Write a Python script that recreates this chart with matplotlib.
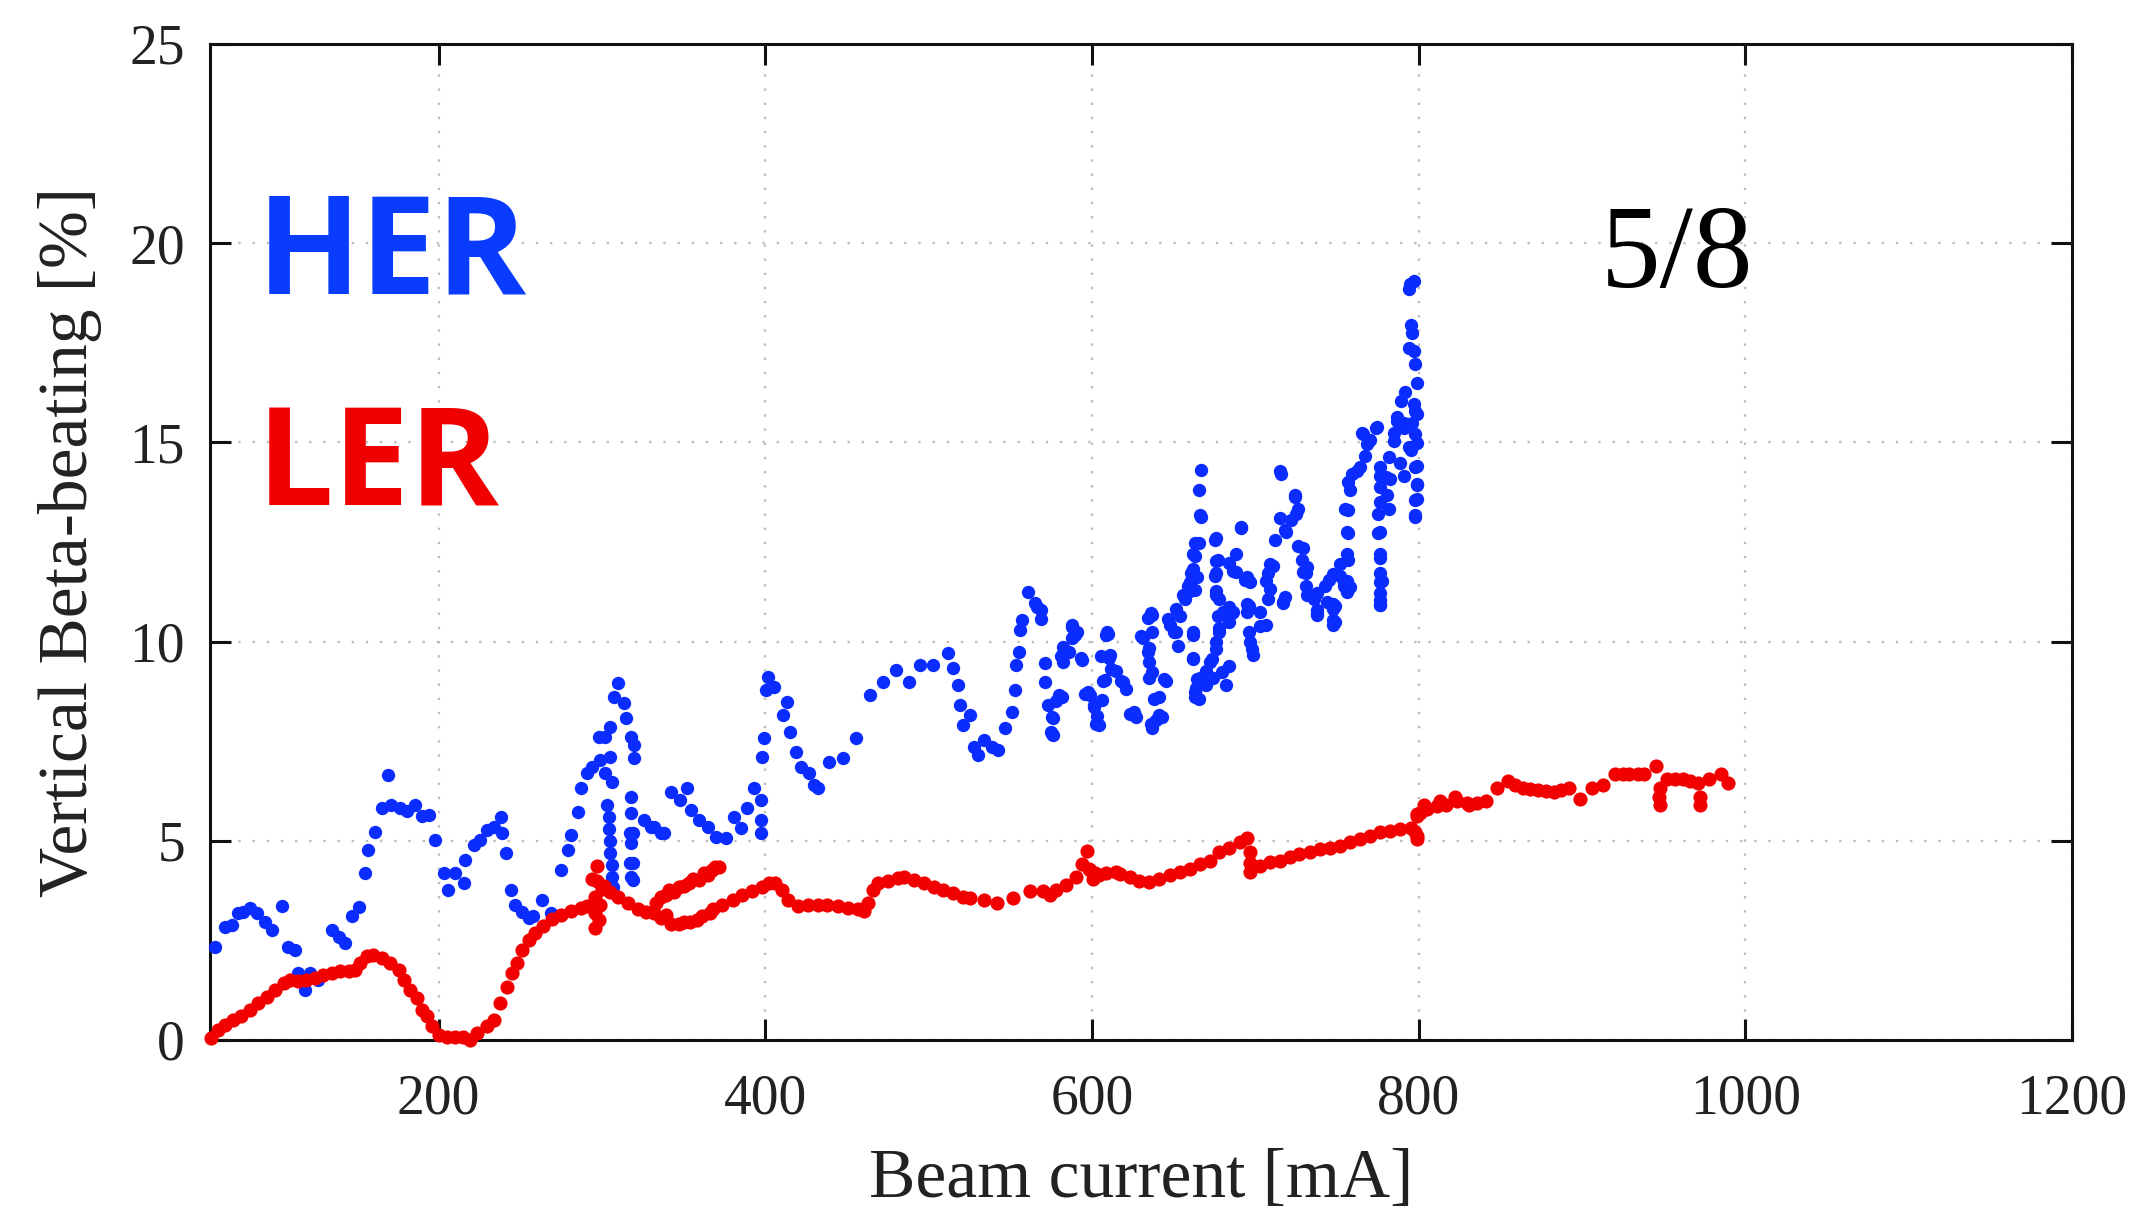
import matplotlib
matplotlib.use("Agg")
import matplotlib.pyplot as plt

# HER: vertical beta-beating [%] vs beam current [mA]
her_current = [
    63.1, 69.2, 73.3, 77.4, 80.4, 84.5, 88.6, 93.7, 97.8, 104, 108, 112, 114, 118, 121, 126,
    134.7, 138.7, 142.8, 147, 151, 155, 157, 161, 165, 169, 171, 176.6, 180.7, 185.8, 189.9, 194,
    198, 203, 206, 210, 215.4, 216.4, 221.5, 225.6, 229.8, 233.8, 238, 239, 241, 244, 247, 251,
    255, 258, 263, 268.6, 274.7, 279, 281, 285, 287, 291, 294, 299, 302, 305, 309.5, 307.4,
    313.5, 314.6, 317.7, 319.7, 319.7, 298, 305, 306, 302,
    303, 304, 304, 305, 305, 306, 306, 307,
    318, 318, 317, 318, 317, 318, 319, 319, 319,
    326, 330, 332, 336, 338, 342, 348, 352, 354.5, 359.6, 364.7, 369.8, 376, 381, 385, 389,
    393, 397.4, 397.4, 397.4, 398, 399, 401.5, 400.5, 405.6, 413, 410.7, 414.8, 419, 422, 427,
    430, 432, 439, 447.5, 455.7, 463.9, 472, 480, 488, 494.6, 502.8, 512, 515, 518, 519, 525,
    521, 528, 530, 534, 538.5, 542.6, 546.7, 550.8, 552.8, 555, 557, 560.6, 565, 566.6, 569,
    568.8, 556, 553.7, 571, 571, 573, 576, 576, 581.5, 582.5, 587.6, 589.6, 593.7, 598.8, 603,
    604, 606, 610, 611, 608,
    575, 575.8, 575.8, 578, 580, 580, 581, 582, 586, 588, 588, 590.6, 593, 596, 597.7, 601,
    601.4, 602.5, 605.8, 606.5, 608.6, 609.4, 610.6, 611.7, 614.7, 617.8, 618.7, 621, 623,
    625.7, 627, 630, 631, 634, 634, 635, 635, 635, 636, 637, 637, 637, 638, 637, 636.2, 639,
    641, 641, 643, 644, 645.6, 646.8, 647.5, 650, 651.6, 651.6, 652.6, 653.8, 655.7, 657,
    658.5, 659.8, 660.8, 661.8, 661.8, 661.8, 663, 663, 663, 663.9, 662.8, 664, 663, 665.5,
    665.9, 666.7, 665.5, 666.7, 665.5, 662, 662, 666, 661.8, 664, 659.8, 670, 670, 670, 672,
    673.7, 674, 676, 676, 678, 677, 678, 676, 675, 677, 676, 676, 676, 676, 675, 678, 680,
    684, 684, 684, 686, 686.4, 684, 682, 679.5, 686.4, 688.4, 688.4, 691.4, 691.5, 693.6,
    694.6, 694.6, 694.6, 696, 696, 696.6, 696.6, 698, 698.7, 702.8, 703, 706.8, 706.8, 707.6,
    707.6, 708.9, 709, 711, 712, 715, 715.8, 715, 717, 717, 718, 718, 719, 721.6, 724, 724,
    725, 726, 726.3, 728.6, 729.4, 729.4, 731, 731, 731.4, 731.4, 735.7, 737.6, 737.6, 738,
    738, 742.7, 743.7, 745, 747.8, 747.8, 747.8, 747.8, 747.8, 748.5, 748.5, 752, 752, 754,
    754, 756, 756, 756, 756, 756.7, 756.7, 756.7, 755, 757, 758, 758, 759, 762, 764, 765, 766,
    767, 768.4, 770, 774, 774.4, 775, 775, 776.4, 776.4, 776.4, 776.4, 776.4, 776.4, 776.4,
    776.4, 776.4, 776.4, 776.4, 776.4, 777.5, 776.4, 780, 780.5, 781.6, 782, 782.6, 784.6,
    784.6, 786.7, 787, 788.7, 789, 790.8, 790.8, 791, 791.8, 793.9, 793.9, 794, 794.9, 795,
    795, 796, 796, 797, 797, 797, 797.6, 797.6, 797.6, 797.6, 797.6, 798, 798, 798.8, 799,
    799, 799, 799, 799, 799,
]
her_beta = [
    2.34, 2.84, 2.89, 3.18, 3.22, 3.31, 3.18, 2.97, 2.76, 3.36, 2.34, 2.26, 1.67, 1.25, 1.67, 1.5,
    2.76, 2.59, 2.43, 3.1, 3.35, 4.18, 4.77, 5.23, 5.82, 6.65, 5.9, 5.82, 5.74, 5.9, 5.61, 5.65,
    5.02, 4.18, 3.77, 4.18, 3.93, 4.52, 4.89, 5.02, 5.27, 5.35, 5.6, 5.19, 4.69, 3.77, 3.39, 3.22,
    3.05, 3.1, 3.51, 3.18, 4.27, 4.77, 5.15, 5.73, 6.32, 6.69, 6.86, 7.03, 7.61, 7.86, 8.95, 8.62,
    8.45, 8.07, 7.61, 7.4, 7.07, 7.61, 7.11, 6.48, 6.69,
    5.9, 5.6, 5.3, 5.0, 4.7, 4.4, 4.1, 3.85,
    6.1, 5.7, 5.2, 4.95, 4.45, 4.1, 5.19, 4.44, 4.02,
    5.52, 5.35, 5.35, 5.19, 5.19, 6.23, 6.02, 6.32, 5.77, 5.52, 5.35, 5.1, 5.06, 5.6, 5.31, 5.82,
    6.32, 6.02, 5.52, 5.19, 7.11, 7.57, 9.12, 8.79, 8.87, 8.49, 8.16, 7.74, 7.24, 6.86, 6.69,
    6.4, 6.32, 6.99, 7.07, 7.57, 8.66, 8.99, 9.29, 8.99, 9.41, 9.41, 9.71, 9.33, 8.91, 8.41, 8.16,
    7.91, 7.36, 7.15, 7.53, 7.36, 7.28, 7.82, 8.24, 8.79, 9.75, 10.54, 11.24, 10.96, 10.86, 10.79,
    10.57, 10.28, 9.42, 9.46, 8.99, 8.41, 8.07, 7.66, 8.62, 9.87, 10.37, 10.17, 9.54, 8.66, 8.12,
    7.91, 8.53, 10.2, 9.66, 9.04,
    7.74, 7.69, 8.1, 8.51, 8.6, 8.65, 9.65, 9.5, 9.75, 10.41, 10.08, 10.23, 9.59, 8.68, 8.73, 8.4,
    8.35, 7.93, 9.65, 9.0, 10.17, 10.23, 9.59, 9.31, 9.26, 9.0, 8.98, 8.82, 8.18,
    8.24, 8.1, 10.15, 10.08, 10.58, 9.73, 9.83, 9.5, 9.09, 10.73, 10.66, 10.23, 9.23, 8.57, 7.82, 7.93, 8.02,
    8.15, 8.6, 8.1, 9.07, 9.0, 10.56, 10.41, 10.23, 10.83, 10.25, 9.9, 10.64, 11.16, 11.06,
    11.4, 11.49, 11.72, 11.82, 10.17, 9.59, 12.14, 12.47, 11.3, 8.84, 8.6, 9.07, 8.73, 8.57,
    9.09, 14.3, 13.8, 13.13, 12.47, 10.23, 9.57, 13.17, 12.19, 11.61, 11.28, 8.9, 9.23, 9.26, 9.5,
    9.57, 9.09, 9.81, 10.0, 10.23, 10.64, 11.06, 11.72, 12.55, 12.05, 12.6, 12.02, 11.28, 11.16, 11.65, 10.33, 10.74,
    11.97, 10.5, 10.87, 10.73, 10.74, 9.4, 8.9, 9.23, 11.78, 11.74, 12.19, 12.88, 12.85, 11.55,
    11.61, 10.74, 10.95, 10.9, 10.23, 11.49, 10.0, 9.81, 9.67, 10.74, 10.4, 10.41, 11.53, 11.06,
    11.72, 11.94, 11.32, 11.89, 12.55, 14.28, 14.2, 13.09, 10.99, 10.97, 12.8, 11.12, 12.76, 13.05, 13.63, 13.67,
    13.2, 12.39, 13.34, 12.05, 12.35, 11.74, 11.72, 11.39, 11.86, 11.16, 11.06, 10.66, 10.79, 10.73,
    11.23, 11.39, 10.99, 11.55, 11.7, 10.95, 10.54, 10.83, 10.41, 10.9, 10.48, 11.64, 11.94, 11.39,
    11.49, 11.24, 12.76, 12.19, 11.53, 12.05, 12.72, 13.3, 13.34, 14.0, 13.8, 11.37, 14.2, 14.28, 14.38, 15.23, 15.2,
    14.65, 14.96, 15.07, 15.37, 15.39, 13.2, 12.72, 14.38, 13.88, 14.16, 13.5, 12.76, 12.2, 12.1,
    11.72, 11.22, 10.93, 10.91, 11.49, 11.53, 11.04, 14.13, 13.67, 13.34, 14.63, 14.08, 15.04,
    15.23, 15.64, 15.54, 14.49, 16.04, 15.48, 14.16, 15.37, 16.26, 18.85, 17.37, 14.88, 18.97, 17.94,
    14.82, 17.74, 15.48, 19.05, 17.29, 15.97, 15.8, 15.2, 14.38, 13.55, 13.13, 16.96, 13.17, 13.96, 16.5,
    15.72, 14.98, 14.41, 13.92, 13.59,
]

# LER: vertical beta-beating [%] vs beam current [mA]
ler_current = [
    60.5, 65, 69, 74, 79, 84.5, 89.6, 94.7, 100, 105, 109, 114, 119, 124, 129, 134.6, 139.7,
    145, 149, 152, 156, 160, 165, 170, 175.5, 178.5, 182.6, 186.7, 189.8, 192.8, 196, 200, 205,
    210, 215, 219, 223.5, 229.6, 233.7, 237.8, 242, 245, 248, 251, 255, 259, 264, 269.5, 274.6,
    280.8, 287, 291, 294, 296, 296, 296, 297, 297, 298, 299, 300, 301, 305, 310, 316, 322, 327,
    332, 333, 336, 339, 341, 344, 347, 350, 353, 356, 359.5, 362.6, 365, 367.6, 369, 371.7,
    336, 339, 342, 347, 350, 354, 358, 361.5, 366, 368, 373.7, 380, 386, 392, 398, 402, 406,
    410, 414, 420, 426, 432, 438, 444.5, 450.6, 456.7, 460.7, 462.7, 465.8, 468.8, 475, 481,
    485, 491, 497, 503, 509, 515, 521, 525.5, 533.6, 541.7, 551.8, 562, 570, 574, 578, 584,
    590, 594, 597, 598, 599, 600.4, 602, 604.5, 608.5, 614.5, 617, 623, 629, 635, 641, 647.5,
    653.6, 659.8, 666, 672, 678, 684, 690.5, 694.6, 696.6, 696.6, 697, 702.8, 709, 715, 721,
    727, 733.5, 739.6, 745.7, 752, 758, 764, 770, 776.4, 782.6, 788.7, 795, 798, 799, 799, 799,
    799, 801, 803.5, 805, 811, 813, 817, 822, 823.5, 829.7, 831, 836, 841, 847.7, 854.6, 859,
    864, 868, 873, 878, 882.6, 887, 892, 899, 906, 913, 920, 925, 929, 934, 938, 945, 947.7,
    947.7, 947, 952, 957, 961.6, 966, 971, 972, 972, 978, 985, 989.5,
]
ler_beta = [
    0.05, 0.25, 0.38, 0.5, 0.59, 0.76, 0.92, 1.09, 1.26, 1.43, 1.51, 1.47, 1.51, 1.55, 1.64, 1.68, 1.72,
    1.72, 1.76, 1.93, 2.1, 2.14, 2.06, 1.93, 1.76, 1.51, 1.26, 1.05, 0.76, 0.59, 0.34, 0.13, 0.08,
    0.08, 0.08, 0.0, 0.17, 0.34, 0.5, 0.92, 1.34, 1.68, 1.93, 2.27, 2.52, 2.69, 2.86, 3.03, 3.15,
    3.24, 3.32, 3.36, 4.03, 2.8, 3.2, 3.6, 4.0, 4.37, 3.0, 3.4, 3.8, 3.87, 3.72, 3.6, 3.45, 3.3, 3.22,
    3.2, 3.44, 3.6, 3.65, 3.77, 3.72, 3.85, 3.87, 3.93, 4.03, 4.02, 4.2, 4.15, 4.26, 4.33, 4.34,
    3.05, 3.15, 2.9, 2.9, 2.95, 2.96, 3.0, 3.1, 3.2, 3.28, 3.4, 3.52, 3.65, 3.73, 3.85, 3.93, 3.93,
    3.77, 3.52, 3.36, 3.4, 3.4, 3.4, 3.36, 3.32, 3.28, 3.24, 3.44, 3.77, 3.93, 3.98, 4.06,
    4.1, 4.02, 3.93, 3.85, 3.77, 3.69, 3.6, 3.56, 3.52, 3.44, 3.56, 3.73, 3.73, 3.64, 3.77, 3.89,
    4.1, 4.43, 4.75, 4.3, 4.26, 4.05, 4.18, 4.13, 4.18, 4.22, 4.17, 4.09, 4.0, 3.97, 4.05, 4.13,
    4.21, 4.3, 4.42, 4.5, 4.71, 4.83, 4.96, 5.08, 4.71, 4.21, 4.45, 4.38, 4.46, 4.5, 4.59,
    4.67, 4.71, 4.79, 4.83, 4.88, 4.96, 5.04, 5.12, 5.21, 5.25, 5.29, 5.33, 5.21, 5.04, 5.11, 5.62,
    5.67, 5.7, 5.89, 5.79, 5.87, 6.0, 5.91, 6.11, 6.0, 5.95, 5.89, 5.95, 6.0, 6.33, 6.5, 6.4,
    6.33, 6.3, 6.28, 6.25, 6.22, 6.28, 6.33, 6.06, 6.33, 6.39, 6.67, 6.67, 6.67, 6.67, 6.67, 6.89, 6.33,
    5.89, 6.1, 6.56, 6.56, 6.56, 6.5, 6.44, 5.89, 6.1, 6.56, 6.67, 6.44,
]

x_ticks = [200, 400, 600, 800, 1000, 1200]
y_ticks = [0, 5, 10, 15, 20, 25]

W, H = 2142, 1211
fig = plt.figure(figsize=(W / 100, H / 100), dpi=100)
ax = fig.add_axes([210 / W, 1 - 1040 / H, 1862 / W, 996 / H])

serif = "Liberation Serif"
blue = "#0a2cff"
red = "#f20000"

ax.plot(her_current, her_beta, linestyle="none", marker="o", markersize=9.6,
        markeredgewidth=0, color=blue, zorder=3, clip_on=False)
ax.plot(ler_current, ler_beta, linestyle="none", marker="o", markersize=10.2,
        markeredgewidth=0, color=red, zorder=4, clip_on=False)

ax.set_xlim(60, 1200)
ax.set_ylim(0, 25)
ax.set_xticks(x_ticks)
ax.set_yticks(y_ticks)
ax.set_xticklabels([str(v) for v in x_ticks], fontfamily=serif, fontsize=40, color="#222222")
ax.set_yticklabels([str(v) for v in y_ticks], fontfamily=serif, fontsize=40, color="#222222")
ax.tick_params(direction="in", length=15, width=2.2, top=True, right=True,
               color="#111111")
ax.tick_params(axis="x", pad=24)
ax.tick_params(axis="y", pad=18)

ax.grid(True, color="#bdbdbd", linestyle=(0, (1, 5)), linewidth=1.7, zorder=0)
for s in ax.spines.values():
    s.set_linewidth(2.2)
    s.set_color("#111111")

ax.set_xlabel("Beam current [mA]", fontfamily=serif, fontsize=50, color="#222222", labelpad=17)
ax.set_ylabel("Vertical Beta-beating [%]", fontfamily=serif, fontsize=50, color="#222222", labelpad=20)

ax.text(0.025, 0.749, "HER", transform=ax.transAxes, fontfamily="Open Sans",
        fontweight="bold", fontsize=98, color="#0a3cff", va="baseline", ha="left", zorder=5)
ax.text(0.025, 0.537, "LER", transform=ax.transAxes, fontfamily="Open Sans",
        fontweight="bold", fontsize=98, color="#f00000", va="baseline", ha="left", zorder=5)
ax.text(0.747, 0.756, "5/8", transform=ax.transAxes, fontfamily=serif,
        fontsize=86, color="black", va="baseline", ha="left", zorder=5)

fig.savefig("out.png", dpi=100)
